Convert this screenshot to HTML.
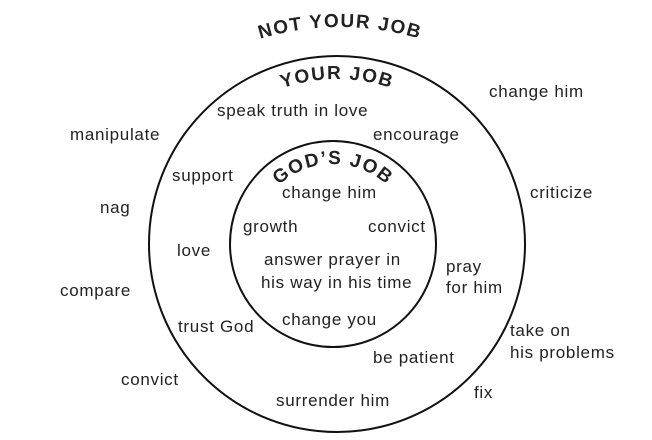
<!DOCTYPE html>
<html><head><meta charset="utf-8"><style>
html,body{margin:0;padding:0;background:#fff;}
svg{display:block;}
text{font-family:"Liberation Sans",sans-serif;fill:#222;}
.t{font-size:17px;letter-spacing:0.7px;}
.h{font-size:19px;font-weight:bold;letter-spacing:1.5px;}
</style></head><body>
<svg width="652" height="440" viewBox="0 0 652 440">
<defs>
<path id="a1" d="M 65 302 A 275 275 0 0 1 615 302"/>
<path id="a2" d="M 172 244 A 165 165 0 0 1 502 244"/>
<path id="a3" d="M 253 244 A 80 80 0 0 1 413 244"/>
</defs>
<circle cx="337" cy="244" r="188" fill="none" stroke="#111" stroke-width="2"/>
<circle cx="333" cy="244" r="103" fill="none" stroke="#111" stroke-width="2"/>
<text class="h"><textPath href="#a1" startOffset="50%" text-anchor="middle">NOT YOUR JOB</textPath></text>
<text class="h"><textPath href="#a2" startOffset="50%" text-anchor="middle">YOUR JOB</textPath></text>
<text class="h"><textPath href="#a3" startOffset="50%" text-anchor="middle">GOD’S JOB</textPath></text>
<text class="t" x="489" y="97">change him</text>
<text class="t" x="70" y="140">manipulate</text>
<text class="t" x="217" y="116">speak truth in love</text>
<text class="t" x="373" y="140">encourage</text>
<text class="t" x="172" y="181">support</text>
<text class="t" x="282" y="198">change him</text>
<text class="t" x="530" y="198">criticize</text>
<text class="t" x="100" y="213">nag</text>
<text class="t" x="243" y="232">growth</text>
<text class="t" x="368" y="232">convict</text>
<text class="t" x="177" y="256">love</text>
<text class="t" x="264" y="265">answer prayer in</text>
<text class="t" x="261" y="288">his way in his time</text>
<text class="t" x="446" y="272">pray</text>
<text class="t" x="446" y="293">for him</text>
<text class="t" x="60" y="296">compare</text>
<text class="t" x="178" y="332">trust God</text>
<text class="t" x="282" y="325">change you</text>
<text class="t" x="510" y="336">take on</text>
<text class="t" x="510" y="358">his problems</text>
<text class="t" x="373" y="363">be patient</text>
<text class="t" x="121" y="385">convict</text>
<text class="t" x="474" y="398">fix</text>
<text class="t" x="276" y="406">surrender him</text>
</svg>
</body></html>
